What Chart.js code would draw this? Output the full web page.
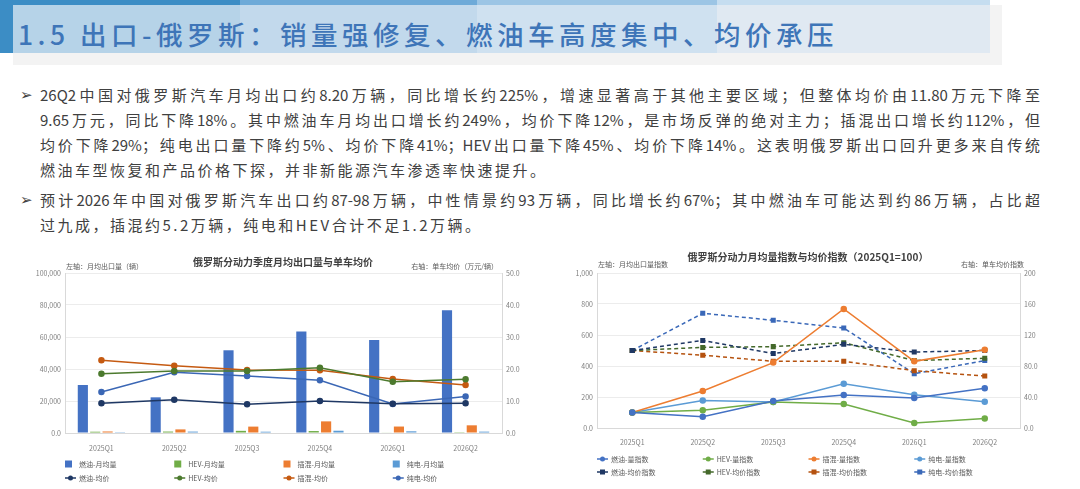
<!DOCTYPE html>
<html lang="zh-CN">
<head>
<meta charset="utf-8">
<script src="https://cdn.jsdelivr.net/npm/chart.js@4.4.1/dist/chart.umd.min.js"></script>
<style>
  html, body { margin: 0; padding: 0; background: #fff; }
  body { width: 1080px; height: 489px; position: relative; overflow: hidden;
         font-family: 'Noto Sans CJK SC', sans-serif; }
  .blk { position: absolute; }
  .title { position: absolute; left: 18px; top: 14px; font-size: 26.5px; line-height: 40px;
           color: #3E75B8; letter-spacing: 4.5px; font-weight: 500; white-space: nowrap; }
  .ln { position: absolute; left: 40px; width: 1000px; height: 20px; line-height: 20px;
        font-size: 15px; color: #404040; letter-spacing: 2.5px; white-space: nowrap; }
  .ln.j { text-align: justify; text-align-last: justify; letter-spacing: 0; }
  .bul { position: absolute; left: 20px; font-family: 'DejaVu Sans', sans-serif; font-size: 15px;
         color: #404040; line-height: 20px; }
  .chartbox { position: absolute; top: 248px; height: 241px; }
</style>
</head>
<body>
<!-- 页眉色条 -->
<div class="blk" style="left:13px;top:5px;width:989px;height:60px;background:#F3F3F3"></div>
<div class="blk" style="left:0;top:0;width:240px;height:5px;background:#3C8DC5"></div>
<div class="blk" style="left:240px;top:0;width:237px;height:5px;background:#6EAAD8"></div>
<div class="blk" style="left:477px;top:0;width:240px;height:5px;background:#9CC5E5"></div>
<div class="blk" style="left:717px;top:0;width:273px;height:5px;background:#C5DDF0"></div>
<div class="blk" style="left:0;top:0;width:13px;height:53px;background:#3C8DC5"></div>
<div class="blk" style="left:13px;top:5px;width:227px;height:48px;background:#B6D3E8"></div>
<div class="blk" style="left:240px;top:5px;width:237px;height:48px;background:#C2D9EC"></div>
<div class="blk" style="left:477px;top:5px;width:240px;height:48px;background:#CFE1F0"></div>
<div class="blk" style="left:717px;top:5px;width:273px;height:48px;background:#E0E9F2"></div>
<div class="title">1.5 出口-俄罗斯：销量强修复、燃油车高度集中、均价承压</div>

<!-- 正文 -->
<div class="bul" style="top:85px">➢</div>
<div class="ln j" style="top:85px">26Q2中国对俄罗斯汽车月均出口约8.20万辆，同比增长约225%，增速显著高于其他主要区域；但整体均价由11.80万元下降至</div>
<div class="ln j" style="top:110px">9.65万元，同比下降18%。其中燃油车月均出口增长约249%，均价下降12%，是市场反弹的绝对主力；插混出口增长约112%，但</div>
<div class="ln j" style="top:135px">均价下降29%；纯电出口量下降约5%、均价下降41%；HEV出口量下降45%、均价下降14%。这表明俄罗斯出口回升更多来自传统</div>
<div class="ln" style="top:160px">燃油车型恢复和产品价格下探，并非新能源汽车渗透率快速提升。</div>
<div class="bul" style="top:190px">➢</div>
<div class="ln j" style="top:190px">预计2026年中国对俄罗斯汽车出口约87-98万辆，中性情景约93万辆，同比增长约67%；其中燃油车可能达到约86万辆，占比超</div>
<div class="ln" style="top:215px">过九成，插混约5.2万辆，纯电和HEV合计不足1.2万辆。</div>

<div class="chartbox" style="left:30px;width:500px"><canvas id="chart-volumen"></canvas></div>
<div class="chartbox" style="left:545px;width:505px"><canvas id="chart-indice"></canvas></div>

<script>
// datos
const quarters = ['2025Q1', '2025Q2', '2025Q3', '2025Q4', '2026Q1', '2026Q2'];

// 月均出口量（辆）
const volIce  = [30000, 22300, 51700, 63500, 58100, 76700];
const volHev  = [800, 900, 1350, 1220, 270, 500];
const volPhev = [950, 2250, 4000, 7270, 4040, 4800];
const volBev  = [500, 880, 810, 1420, 1060, 850];

// 单车均价（万元/辆）
const priceIce  = [9.27, 10.42, 8.96, 10.0, 9.17, 9.27];
const priceHev  = [18.5, 19.4, 19.4, 20.4, 16.0, 16.8];
const pricePhev = [22.7, 21.0, 19.7, 19.6, 16.9, 15.0];
const priceBev  = [12.8, 19.0, 17.8, 16.5, 9.1, 11.4];

// 量指数 / 均价指数 (2025Q1=100)
const idxVolIce  = [100, 73, 174, 213, 194, 256];
const idxVolHev  = [100, 114, 168, 155, 32, 62];
const idxVolPhev = [100, 239, 422, 768, 430, 505];
const idxVolBev  = [100, 178, 168, 286, 215, 170];
const idxPriceIce  = [100, 113, 96, 108, 98, 100];
const idxPriceHev  = [100, 104, 105, 110, 87, 90];
const idxPricePhev = [100, 94, 86, 86, 74, 67];
const idxPriceBev  = [100, 148, 139, 129, 70, 87];

// etiquetas de ejes
const leftTicksA  = ['0.0', '20,000', '40,000', '60,000', '80,000', '100,000'];
const rightTicksA = ['0.0', '10.0', '20.0', '30.0', '40.0', '50.0'];
const leftTicksB  = ['0.0', '200', '400', '600', '800', '1,000'];
const rightTicksB = ['0.0', '40.0', '80.0', '120', '160', '200'];

Chart.defaults.font.family = "'Noto Sans CJK SC', sans-serif";
Chart.defaults.animation = false;

// título, subtítulos y leyenda en rejilla de 4 columnas
const decor = {
  id: 'decor',
  afterDraw(chart, args, opts) {
    const c = chart.ctx, area = chart.chartArea;
    c.save();
    c.fillStyle = '#404040';
    c.font = "bold 10px 'Noto Sans CJK SC'";
    c.textAlign = 'center';
    c.textBaseline = 'middle';
    c.fillText(opts.title, opts.titleX, opts.titleY);
    c.font = "7px 'Noto Sans CJK SC'";
    c.fillStyle = '#595959';
    c.textAlign = 'left';
    c.fillText(opts.subLeft, opts.subLeftX, opts.subY);
    c.textAlign = 'right';
    c.fillText(opts.subRight, opts.subRightX, opts.subY);

    const colW = area.width / 4;
    chart.data.datasets.forEach((ds, i) => {
      const x = area.left + (i % 4) * colW;
      const y = opts.rows[Math.floor(i / 4)];
      if (ds.type === 'bar') {
        c.fillStyle = ds.backgroundColor;
        c.fillRect(x, y - 3.5, 7, 7);
      } else {
        c.strokeStyle = ds.borderColor;
        c.lineWidth = 1.5;
        c.beginPath();
        c.moveTo(x, y);
        c.lineTo(x + 11, y);
        c.stroke();
        c.fillStyle = ds.borderColor;
        if (ds.pointStyle === 'rect') {
          c.fillRect(x + 3, y - 2.5, 5, 5);
        } else {
          c.beginPath();
          c.arc(x + 5.5, y, 2.5, 0, Math.PI * 2);
          c.fill();
        }
      }
      c.fillStyle = '#595959';
      c.textAlign = 'left';
      c.font = "7px 'Noto Sans CJK SC'";
      c.fillText(ds.label, x + 14, y);
    });
    c.restore();
  }
};

function ejeY(pos, max, step, labels, width, grid) {
  return {
    position: pos, min: 0, max: max,
    grid: { display: grid, color: '#ececec', drawTicks: false },
    border: { display: true, color: '#d9d9d9' },
    ticks: { stepSize: step, font: { size: 7 }, color: '#7f7f7f', padding: 4,
             callback: (v, i) => labels[i] },
    afterFit: s => { s.width = width; }
  };
}

function ejeX(pad) {
  return {
    offset: true, grid: { display: false, drawTicks: false }, border: { color: '#d9d9d9' },
    ticks: { font: { size: 7 }, color: '#7f7f7f', padding: pad,
             maxRotation: 0, minRotation: 0, autoSkip: false },
    afterFit: s => { s.height = 20; }
  };
}

function linea(label, data, color, axis, dashed) {
  return {
    type: 'line', label: label, data: data, yAxisID: axis,
    borderColor: color, backgroundColor: color,
    borderWidth: 1.5, borderDash: dashed ? [4, 3] : [],
    pointStyle: dashed ? 'rect' : 'circle',
    pointRadius: 2.5, pointBackgroundColor: color, pointBorderColor: color,
    tension: 0, order: 0
  };
}

function barra(label, data, color) {
  return { type: 'bar', label: label, data: data, yAxisID: 'y', backgroundColor: color,
           categoryPercentage: 0.68, barPercentage: 0.82, order: 1 };
}

// Gráfica izquierda: volumen mensual y precio medio
new Chart(document.getElementById('chart-volumen'), {
  type: 'bar',
  data: {
    labels: quarters,
    datasets: [
      barra('燃油-月均量', volIce, '#4472C4'),
      barra('HEV-月均量', volHev, '#70AD47'),
      barra('插混-月均量', volPhev, '#ED7D31'),
      barra('纯电-月均量', volBev, '#5B9BD5'),
      linea('燃油-均价', priceIce, '#1F3864', 'y1', false),
      linea('HEV-均价', priceHev, '#4C7A2E', 'y1', false),
      linea('插混-均价', pricePhev, '#C55A11', 'y1', false),
      linea('纯电-均价', priceBev, '#3B67B5', 'y1', false)
    ]
  },
  options: {
    responsive: true, maintainAspectRatio: false,
    layout: { padding: { top: 25, bottom: 36, left: 0, right: 0 } },
    plugins: {
      legend: { display: false }, tooltip: { enabled: false },
      decor: { title: '俄罗斯分动力季度月均出口量与单车均价', titleX: 253, titleY: 14,
               subLeft: '左轴：月均出口量（辆）', subLeftX: 36,
               subRight: '右轴：单车均价（万元/辆）', subRightX: 468, subY: 18,
               rows: [216, 230] }
    },
    scales: {
      x: ejeX(11),
      y: ejeY('left', 100000, 20000, leftTicksA, 35, true),
      y1: ejeY('right', 50, 10, rightTicksA, 28, false)
    }
  },
  plugins: [decor]
});

// Gráfica derecha: índices (2025Q1=100)
new Chart(document.getElementById('chart-indice'), {
  type: 'line',
  data: {
    labels: quarters,
    datasets: [
      linea('燃油-量指数', idxVolIce, '#4472C4', 'y', false),
      linea('HEV-量指数', idxVolHev, '#70AD47', 'y', false),
      linea('插混-量指数', idxVolPhev, '#ED7D31', 'y', false),
      linea('纯电-量指数', idxVolBev, '#5B9BD5', 'y', false),
      linea('燃油-均价指数', idxPriceIce, '#1F3864', 'y1', true),
      linea('HEV-均价指数', idxPriceHev, '#44692B', 'y1', true),
      linea('插混-均价指数', idxPricePhev, '#B5520F', 'y1', true),
      linea('纯电-均价指数', idxPriceBev, '#3A68B8', 'y1', true)
    ]
  },
  options: {
    responsive: true, maintainAspectRatio: false,
    layout: { padding: { top: 25, bottom: 41, left: 0, right: 0 } },
    plugins: {
      legend: { display: false }, tooltip: { enabled: false },
      decor: { title: '俄罗斯分动力月均量指数与均价指数（2025Q1=100）', titleX: 263, titleY: 9,
               subLeft: '左轴：月均出口量指数', subLeftX: 53,
               subRight: '右轴：单车均价指数', subRightX: 479, subY: 16,
               rows: [211, 224] }
    },
    scales: {
      x: ejeX(10),
      y: ejeY('left', 1000, 200, leftTicksB, 52, true),
      y1: ejeY('right', 200, 40, rightTicksB, 30, false)
    }
  },
  plugins: [decor]
});
</script>
</body>
</html>
